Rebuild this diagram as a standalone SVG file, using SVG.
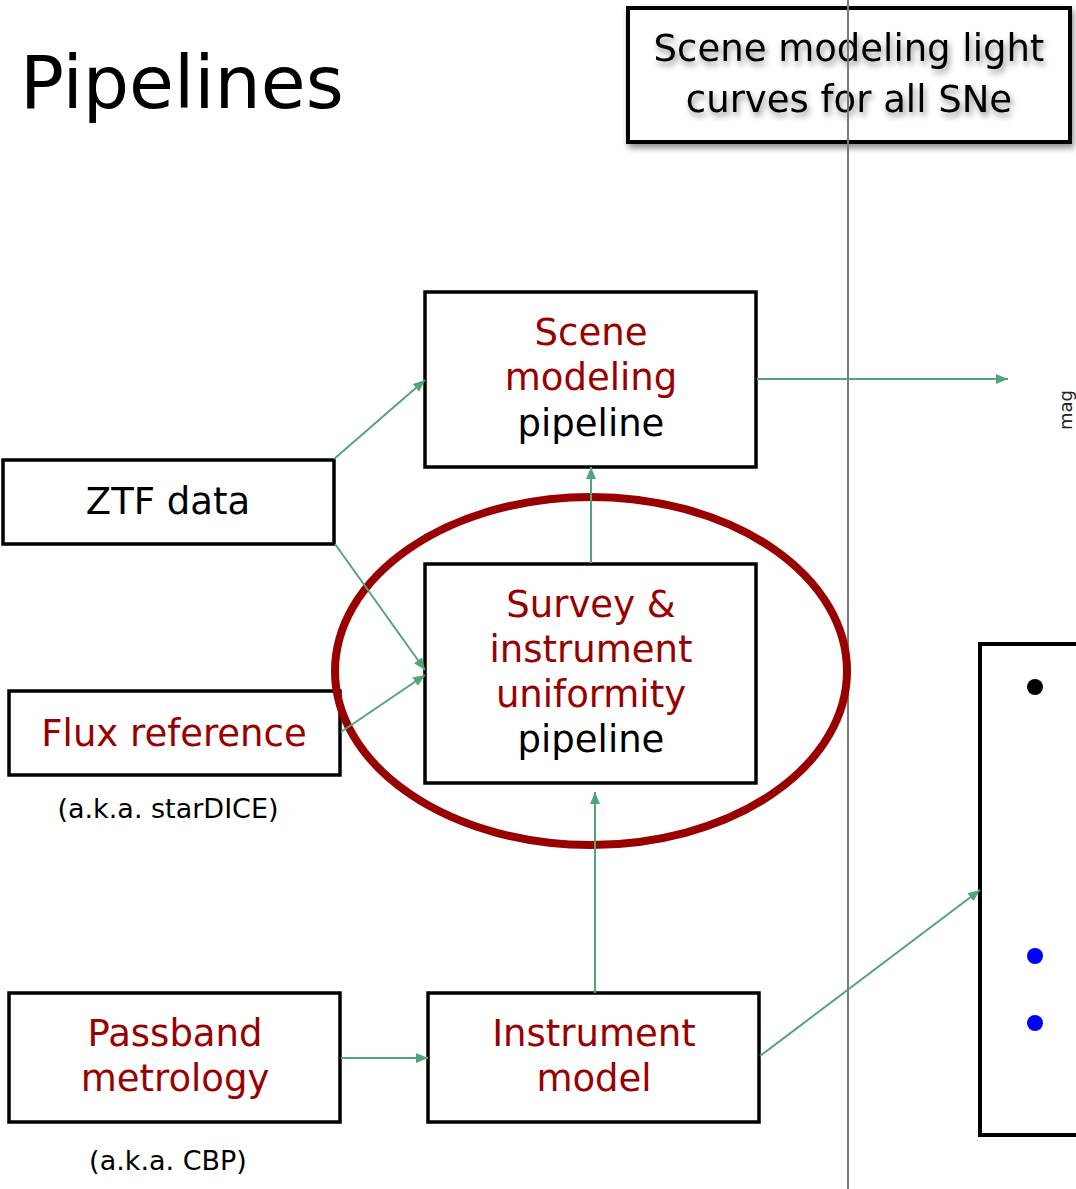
<svg xmlns="http://www.w3.org/2000/svg" width="1076" height="1189" viewBox="0 0 1076 1189">
<defs>
<style>
text{font-family:"DejaVu Sans","Verdana",sans-serif;text-anchor:middle}
.box{fill:#fff;stroke:#000;stroke-width:3.5}
.lbl{font-size:37px;fill:#000}
.red{fill:#990000}
.small{font-size:27px;fill:#000}
.conn{stroke:#52a57a;stroke-width:2;fill:none;marker-end:url(#ah)}
</style>
<marker id="ah" markerUnits="userSpaceOnUse" markerWidth="14" markerHeight="12" refX="12" refY="5" orient="auto">
<path d="M0,0 L12,5 L0,10 Z" fill="#52a57a"/>
</marker>
<filter id="sh" x="-10%" y="-20%" width="120%" height="150%">
<feGaussianBlur in="SourceAlpha" stdDeviation="3"/>
<feOffset dx="2" dy="4" result="b"/>
<feComponentTransfer><feFuncA type="linear" slope="0.45"/></feComponentTransfer>
<feMerge><feMergeNode/><feMergeNode in="SourceGraphic"/></feMerge>
</filter>
</defs>
<rect width="1076" height="1189" fill="#fff"/>
<text x="20" y="108" style="text-anchor:start;font-size:73px">Pipelines</text>

<g id="summary">
<rect x="628" y="8" width="442" height="134" fill="#fff" stroke="#000" stroke-width="4" filter="url(#sh)"/>
<g filter="url(#sh)">
<text x="849" y="61" style="font-size:37px">Scene modeling light</text>
<text x="849" y="112" style="font-size:37px">curves for all SNe</text>
</g>
</g>

<line x1="848" y1="0" x2="848" y2="1189" stroke="#7a7a7a" stroke-width="2"/>

<g id="scene-modeling">
<rect class="box" x="425" y="292" width="331" height="175"/>
<text class="lbl red" x="591" y="345">Scene</text>
<text class="lbl red" x="591" y="390">modeling</text>
<text class="lbl" x="591" y="436">pipeline</text>
</g>

<g id="ztf">
<rect class="box" x="3" y="460" width="331" height="84"/>
<text class="lbl" x="168" y="514">ZTF data</text>
</g>

<g id="survey">
<rect class="box" x="425" y="564" width="331" height="219"/>
<text class="lbl red" x="591" y="617">Survey &amp;</text>
<text class="lbl red" x="591" y="662">instrument</text>
<text class="lbl red" x="591" y="707">uniformity</text>
<text class="lbl" x="591" y="752">pipeline</text>
</g>

<g id="flux">
<rect class="box" x="9" y="691" width="331" height="84"/>
<text class="lbl red" x="174" y="746">Flux reference</text>
<text class="small" x="168" y="818">(a.k.a. starDICE)</text>
</g>

<g id="passband">
<rect class="box" x="9" y="993" width="331" height="129"/>
<text class="lbl red" x="175" y="1046">Passband</text>
<text class="lbl red" x="175" y="1091">metrology</text>
<text class="small" x="168" y="1170">(a.k.a. CBP)</text>
</g>

<g id="instrument">
<rect class="box" x="428" y="993" width="331" height="129"/>
<text class="lbl red" x="594" y="1046">Instrument</text>
<text class="lbl red" x="594" y="1091">model</text>
</g>

<g id="plot">
<rect x="980" y="644" width="110" height="491" fill="#fff" stroke="#000" stroke-width="4"/>
<circle cx="1035" cy="687" r="8" fill="#000"/>
<circle cx="1035" cy="956" r="8" fill="#0000ff"/>
<circle cx="1035" cy="1023" r="8" fill="#0000ff"/>
</g>

<text x="1072" y="410" transform="rotate(-90 1072 410)" style="font-size:18px;fill:#222">mag</text>

<ellipse id="highlight" cx="591" cy="671" rx="256" ry="174" fill="none" stroke="#990000" stroke-width="8"/>

<g id="connectors">
<path class="conn" d="M334,459 L425,380"/>
<path class="conn" d="M757,379 L1008,379"/>
<path class="conn" d="M591,563 L591,467"/>
<path class="conn" d="M335,544 L425,670"/>
<path class="conn" d="M341,732 L425,675"/>
<path class="conn" d="M595,993 L595,792"/>
<path class="conn" d="M341,1058 L428,1058"/>
<path class="conn" d="M760,1056 L980,890"/>
</g>
</svg>
